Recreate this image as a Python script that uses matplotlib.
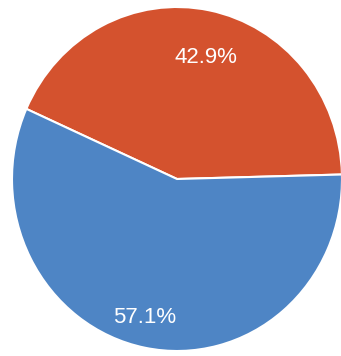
import matplotlib
matplotlib.use("Agg")
import matplotlib.pyplot as plt

categories = ["Red", "Blue"]
values = [42.9, 57.1]
labels = ["42.9%", "57.1%"]
colors = ["#d4522e", "#4e85c5"]

fig = plt.figure(figsize=(3.41, 3.56), dpi=100)
ax = fig.add_axes([0, 0, 1, 1])

wedges, _ = ax.pie(values, colors=colors, startangle=1.5, counterclock=True,
                   radius=1.0,
                   wedgeprops=dict(edgecolor="white", linewidth=1.5))
ax.set_aspect("auto")
ax.set_xlim(-177 / 165, (341 - 177) / 165)
ax.set_ylim(-177 / 172, 179 / 172)
ax.axis("off")

label_pos = [(0.176, 0.709), (-0.194, -0.808)]
for (x, y), t in zip(label_pos, labels):
    ax.text(x, y, t, color="white", fontsize=16, ha="center", va="center",
            family=["Liberation Sans", "DejaVu Sans"])

fig.savefig("out.png", dpi=100)
